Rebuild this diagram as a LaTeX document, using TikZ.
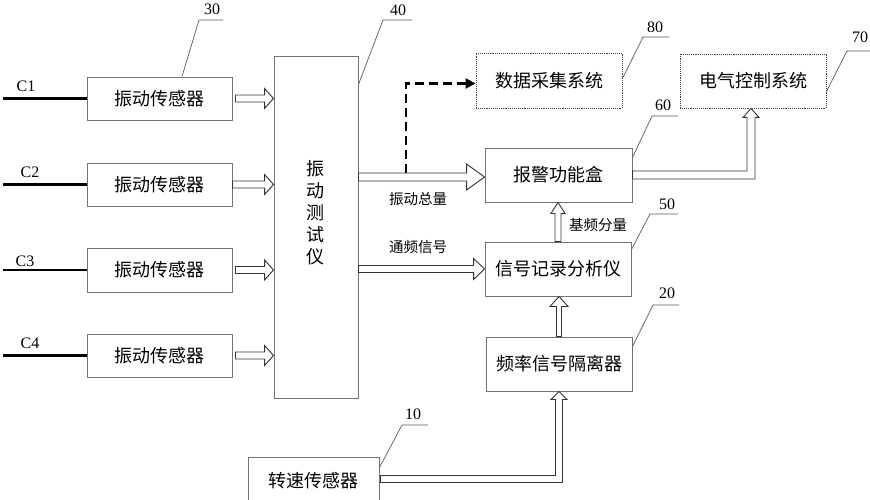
\documentclass[tikz,border=0pt]{standalone}
\usepackage{fontspec}
\setmainfont{Liberation Serif}
\newfontfamily\cjk{Noto Sans CJK SC}
\usetikzlibrary{calc,arrows.meta}
% hollow arrows built from node anchors
\newcommand\harr[5]{\draw[hol] let \p1=(#1), \p2=(#2) in
 (\x1,\y1+#3) -- (\x2-#5,\y1+#3) -- (\x2-#5,\y1+#4) -- (\x2,\y1) -- (\x2-#5,\y1-#4) -- (\x2-#5,\y1-#3) -- (\x1,\y1-#3) -- cycle;}
\newcommand\varr[5]{\draw[hol] let \p1=(#1), \p2=(#2) in
 (\x1-#3,\y1) -- (\x1-#3,\y2-#5) -- (\x1-#4,\y2-#5) -- (\x1,\y2) -- (\x1+#4,\y2-#5) -- (\x1+#3,\y2-#5) -- (\x1+#3,\y1) -- cycle;}
\newcommand\earr[5]{\draw[hol] let \p1=(#1), \p2=(#2) in
 (\x1,\y1+#3) -- (\x2-#3,\y1+#3) -- (\x2-#3,\y2-#5) -- (\x2-#4,\y2-#5) -- (\x2,\y2) -- (\x2+#4,\y2-#5) -- (\x2+#3,\y2-#5) -- (\x2+#3,\y1-#3) -- (\x1,\y1-#3) -- cycle;}
\begin{document}
\begin{tikzpicture}[x=1pt,y=-1pt,
  box/.style={draw=black!55, line width=0.9pt, fill=white, inner sep=0pt,
    font=\cjk\fontsize{18}{20}\selectfont},
  dbox/.style={box, draw=black!75, densely dotted},
  hol/.style={draw=black!80, line width=0.9pt, fill=white, line join=miter},
  lead/.style={draw=black!65, line width=0.7pt},
  num/.style={font=\fontsize{16}{18}\selectfont, inner sep=0pt},
  small/.style={font=\cjk\fontsize{14.5}{16}\selectfont, inner sep=0pt},
  wire/.style={line width=2.3pt},
  dashline/.style={line width=2.2pt, dash pattern=on 9pt off 5pt,
    -{Triangle[length=10pt,width=10pt]}}]
\useasboundingbox (0,0) rectangle (870,500);

% sensors
\node[box, minimum width=145pt, minimum height=43pt] (s1) at (159.5,98.5) {振动传感器};
\node[box, minimum width=145pt, minimum height=43pt] (s2) at (159.5,184.5) {振动传感器};
\node[box, minimum width=145pt, minimum height=44pt] (s3) at (159.5,270) {振动传感器};
\node[box, minimum width=145pt, minimum height=43pt] (s4) at (159.5,355.5) {振动传感器};

% instrument
\node[box, minimum width=84pt, minimum height=342pt] (inst) at (316,227) {};
\node[font=\cjk\fontsize{18}{22}\selectfont, align=center, inner sep=0pt] (t40) at (315,213) {振\\动\\测\\试\\仪};

% right side boxes
\node[dbox, minimum width=146pt, minimum height=55pt] (b80) at (549,80.5) {数据采集系统};
\node[dbox, minimum width=146pt, minimum height=54pt] (b70) at (753,81) {电气控制系统};
\node[box, minimum width=147pt, minimum height=54pt] (b60) at (558.5,175) {报警功能盒};
\node[box, minimum width=146pt, minimum height=54pt] (b50) at (558,269) {信号记录分析仪};
\node[box, minimum width=146pt, minimum height=54pt] (b20) at (559,364) {频率信号隔离器};
\node[box, minimum width=131pt, minimum height=48pt] (b10) at (313.5,481) {转速传感器};

% input wires
\coordinate (c1) at (3,98.5);
\coordinate (c2) at (3,184.5);
\coordinate (c3) at (3,270);
\coordinate (c4) at (3,355.5);
\draw[wire] (c1) -- (s1.west);
\draw[wire] (c2) -- (s2.west);
\draw[wire] (c3) -- (s3.west);
\draw[wire] (c4) -- (s4.west);
\node[num] (lc1) at (26,86) {C1};
\node[num] (lc2) at (30,172) {C2};
\node[num] (lc3) at (25,261) {C3};
\node[num] (lc4) at (30,343) {C4};

% sensor -> instrument
\harr{$(s1.east)+(3,0)$}{inst.west}{3.5pt}{10pt}{9pt}
\harr{s2.east}{inst.west}{3.5pt}{10pt}{9pt}
\harr{$(s3.east)+(3,0)$}{inst.west}{3.5pt}{10pt}{9pt}
\harr{$(s4.east)+(3,0)$}{inst.west}{3.5pt}{10pt}{9pt}

% dashed to data acquisition
\coordinate (d0) at (406,173);
\draw[dashline] (d0) |- ($(b80.west)+(0,3)$);

% instrument -> alarm box / analyser
\harr{$(inst.east|-b60.west)+(0,2)$}{b60.west}{4pt}{13pt}{18pt}
\harr{inst.east|-b50.west}{b50.west}{3.5pt}{10.5pt}{11pt}
\node[small] (l1) at (418,199) {振动总量};
\node[small] (l2) at (418,247) {通频信号};

% vertical arrows
\varr{b50.north}{b60.south}{3pt}{7pt}{11pt}
\varr{b20.north}{b50.south}{2.5pt}{9pt}{10pt}
\node[small] (l3) at (598,225) {基频分量};

% elbow arrows
\earr{b60.east}{$(b70.south)+(-2,0)$}{4pt}{8pt}{9pt}
\earr{$(b10.east)+(1,-2)$}{b20.south}{3.5pt}{8pt}{8pt}

% reference numerals
\coordinate (k30) at (199,20);
\coordinate (k40) at (383,20);
\coordinate (k80) at (643,37);
\coordinate (k70) at (847,51);
\coordinate (k60) at (652,116);
\coordinate (k50) at (650,214);
\coordinate (k20) at (653,305);
\coordinate (k10) at (402,425);
\draw[lead] ($(s1.north)+(22.5,0)$) -- (k30) -- ++(24,0);
\draw[lead] ($(inst.north east)+(0,29)$) -- (k40) -- ++(29,0);
\draw[lead] ($(b80.north east)+(0,26)$) -- (k80) -- ++(26,0);
\draw[lead] ($(b70.north east)+(0,38)$) -- (k70) -- ++(23,0);
\draw[lead] ($(b60.north east)+(0,10)$) -- (k60) -- ++(26,0);
\draw[lead] ($(b50.north east)+(0,8)$) -- (k50) -- ++(28,0);
\draw[lead] ($(b20.north east)+(0,10)$) -- (k20) -- ++(26,0);
\draw[lead] ($(b10.north east)+(0,11)$) -- (k10) -- ++(26,0);
\node[num] (n30) at (212,9) {30};
\node[num] (n40) at (398,10) {40};
\node[num] (n80) at (655,27) {80};
\node[num] (n70) at (860,37) {70};
\node[num] (n60) at (663,105) {60};
\node[num] (n50) at (667,204) {50};
\node[num] (n20) at (667,293) {20};
\node[num] (n10) at (413,414) {10};
\end{tikzpicture}
\end{document}
